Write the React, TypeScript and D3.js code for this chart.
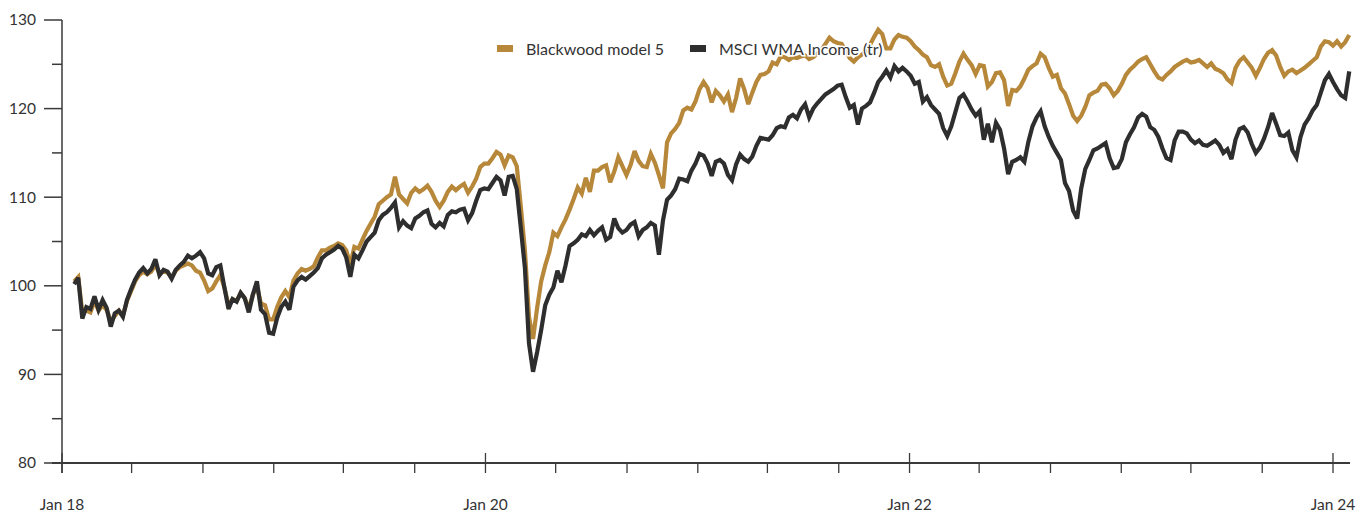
import { useEffect, useRef } from 'react';
import * as d3 from 'd3';

// Weekly index levels (rebased to 100).
const START_DATE = new Date(2018, 0, 22);

const SERIES_NAMES = ['Blackwood model 5', 'MSCI WMA Income (tr)'];

const blackwood = [
  100.5, 101.0, 97.0, 97.2, 97.0, 98.3, 97.2, 97.8, 97.3, 96.0,
  96.6, 97.2, 96.6, 98.3, 99.4, 100.5, 101.2, 101.6, 101.3, 101.6,
  102.4, 101.4, 101.6, 101.5, 100.9, 101.7, 102.1, 102.3, 102.5, 102.3,
  101.7, 101.5, 100.6, 99.4, 99.7, 100.5, 101.2, 99.8, 97.8, 98.5,
  98.3, 99.2, 98.6, 97.4, 99.0, 99.9, 98.0, 97.8, 96.2, 96.2,
  97.6, 98.7, 99.4, 98.7, 100.6, 101.4, 101.9, 101.7, 101.9, 102.2,
  103.2, 104.0, 104.0, 104.3, 104.5, 104.8, 104.6, 104.0, 102.4, 104.4,
  104.2, 105.2, 106.2, 107.0, 107.8, 109.2, 109.6, 110.0, 110.3, 112.3,
  110.3, 109.8, 109.3, 110.5, 111.0, 110.6, 110.9, 111.3, 110.6, 109.6,
  108.9, 109.6, 110.6, 111.2, 110.8, 111.2, 111.5, 110.5, 111.2, 112.1,
  113.4, 113.8, 113.8, 114.4, 115.1, 114.8, 113.6, 114.7, 114.5, 113.5,
  108.9, 104.0, 96.5, 94.0, 97.5, 100.5, 102.3, 103.8, 106.0, 105.6,
  106.6, 107.5, 108.6, 109.8, 111.1, 110.4, 112.2, 110.6, 113.0, 113.0,
  113.4, 113.6, 111.7, 112.9, 114.5, 113.5, 112.5, 113.6, 115.2, 114.1,
  113.5, 113.4, 114.9, 113.9, 112.5, 111.0, 116.2, 117.2, 117.7, 118.4,
  119.8, 120.1, 119.9, 120.8, 122.2, 123.0, 122.3, 120.7, 122.0, 121.5,
  120.8, 121.6, 119.6, 121.2, 123.4, 122.2, 120.5, 121.8, 123.0, 123.8,
  123.9, 124.2, 125.2, 125.0, 125.9, 125.8, 125.5, 125.8, 125.7, 125.9,
  126.0, 125.6, 125.8, 126.2, 126.6, 127.3, 128.0, 127.6, 127.4, 127.3,
  126.5, 125.7, 125.3, 125.8, 126.1, 126.4, 127.2, 128.1, 128.9, 128.4,
  126.8, 126.8, 127.8, 128.3, 128.1, 128.0, 127.6, 127.0, 126.6, 126.1,
  125.8, 124.9, 124.7, 125.0, 123.6, 122.6, 122.8, 124.0, 125.3, 126.2,
  125.5, 124.9, 123.9, 124.9, 124.8, 122.5, 123.0, 124.0, 124.1, 123.2,
  120.3, 122.1, 122.0, 122.5, 123.4, 124.4, 124.8, 125.1, 126.2, 125.8,
  124.6, 123.6, 123.8, 122.3, 121.7, 120.5, 119.2, 118.6, 119.2, 120.2,
  121.5, 121.8, 122.0, 122.7, 122.8, 122.3, 121.5, 122.0, 122.8, 123.8,
  124.4, 124.8, 125.3, 125.6, 125.8, 125.0, 124.2, 123.5, 123.3, 123.8,
  124.2, 124.7, 125.0, 125.3, 125.5, 125.2, 125.3, 125.5, 125.1, 124.7,
  125.1, 124.5, 124.3, 124.0, 123.3, 122.9, 124.6, 125.4, 125.8, 125.2,
  124.6, 123.7, 124.6, 125.6, 126.3, 126.6, 126.0, 124.7, 123.7, 124.2,
  124.4, 124.0, 124.3, 124.6, 125.0, 125.4, 125.8, 127.0, 127.6, 127.5,
  127.1, 127.6, 127.0, 127.5, 128.3,
];

const msciIncome = [
  100.2, 100.9, 96.3, 97.6, 97.4, 98.8, 97.3, 98.4, 97.5, 95.4,
  96.9, 97.2, 96.5, 98.4, 99.6, 100.7, 101.5, 102.0, 101.4, 101.9,
  103.0, 101.2, 101.8, 101.6, 100.8, 101.8, 102.3, 102.7, 103.4, 103.1,
  103.4, 103.8, 103.1, 101.4, 101.2, 102.1, 102.3, 99.8, 97.4, 98.5,
  98.2, 99.2, 98.6, 97.0, 99.0, 100.5, 97.3, 96.8, 94.7, 94.6,
  96.4, 97.6, 98.2, 97.3, 99.9, 100.6, 101.0, 100.7, 101.1, 101.5,
  102.0, 103.1, 103.5, 103.8, 104.1, 104.5, 104.2, 103.2, 101.0, 103.5,
  103.1, 104.0, 105.0, 105.5, 106.0, 107.4, 108.0, 108.3, 108.8, 109.4,
  106.6, 107.3, 106.8, 106.5, 107.6, 107.9, 108.3, 108.5, 107.0, 106.6,
  107.1, 106.7, 108.0, 108.4, 108.3, 108.6, 108.7, 107.4, 108.2, 109.6,
  110.8, 111.0, 110.9, 111.6, 112.3, 111.9, 110.2, 112.3, 112.4, 110.9,
  106.5, 102.0, 93.5, 90.3, 92.5, 95.0, 97.8, 99.0, 99.8, 101.7,
  100.4, 102.3, 104.5, 104.8, 105.2, 105.8, 105.6, 106.3, 105.7, 106.2,
  106.6, 105.2, 105.5, 107.6, 106.5, 106.0, 106.3, 106.9, 107.2, 105.6,
  106.3, 106.6, 107.1, 106.8, 103.5, 107.4, 109.7, 110.2, 110.9, 112.1,
  112.0, 111.8, 113.0, 113.8, 114.9, 114.7, 113.8, 112.4, 114.0, 114.2,
  113.8, 112.5, 111.9, 113.7, 114.8, 114.3, 114.0, 114.6, 115.8, 116.7,
  116.6, 116.5, 117.0, 117.8, 118.0, 117.9, 119.0, 119.3, 118.9, 119.9,
  120.5, 119.0, 120.0, 120.6, 121.1, 121.6, 121.9, 122.2, 122.6, 122.7,
  121.3, 120.1, 120.4, 118.2, 120.0, 120.3, 120.7, 121.8, 123.0, 123.6,
  124.3, 123.5, 124.8, 124.2, 124.6, 124.2, 123.7, 122.8, 123.0, 120.8,
  121.3, 120.4, 119.9, 119.4, 117.8, 116.9, 118.0, 119.6, 121.2, 121.6,
  120.8, 119.9, 119.2, 119.7, 116.5, 118.3, 116.2, 118.4, 117.6, 115.5,
  112.6, 114.0, 114.2, 114.5, 114.0, 116.3, 118.0, 119.0, 119.7, 118.0,
  116.8, 115.8, 115.0, 114.2, 111.6, 110.7, 108.5, 107.6, 111.0, 113.2,
  114.2, 115.3, 115.5, 115.8, 116.1, 114.4, 113.3, 113.4, 114.3, 116.2,
  117.1, 117.9, 119.0, 119.4, 119.1, 117.9, 117.6, 116.8, 115.5, 114.4,
  114.2, 116.4, 117.4, 117.4, 117.2, 116.5, 116.1, 116.4, 115.9, 115.8,
  116.1, 116.4, 115.9, 115.0, 115.4, 114.3, 116.5, 117.7, 117.9, 117.3,
  116.0, 115.0, 115.6, 116.6, 117.9, 119.5, 118.3, 117.0, 116.9, 117.3,
  115.3, 114.5, 116.8, 118.2, 118.9, 119.8, 120.4, 121.8, 123.2, 123.9,
  123.0, 122.2, 121.5, 121.2, 124.2,
];

const Y_TICKS = [80, 90, 100, 110, 120, 130];
const X_LABELS = ['Jan 18', 'Jan 20', 'Jan 22', 'Jan 24'];

const WIDTH = 1358;
const HEIGHT = 512;
const GOLD = '#b7873a';
const DARK = '#2e2e2e';
const AXIS = '#3a3a3a';
const TEXT = '#333333';
const FONT = 'Lato, "Open Sans", sans-serif';

export default function App() {
  const svgRef = useRef<SVGSVGElement>(null);

  useEffect(() => {
    if (!svgRef.current) return;
    const svg = d3.select(svgRef.current);
    svg.selectAll('*').remove();

    const dates = blackwood.map((_, i) => d3.timeDay.offset(START_DATE, i * 7));

    // Jan 18 sits on the y axis, Jan 24 at 1333; axis runs a little past it
    const x = d3
      .scaleTime()
      .domain([new Date(2018, 0, 1), new Date(2024, 0, 1)])
      .range([62, 1333]);
    const xEnd = 1350;
    const y = d3.scaleLinear().domain([80, 130]).range([463, 20]);

    const g = svg.append('g').style('font-family', FONT);

    // Lines (gold first, MSCI drawn on top)
    const seriesList = [
      { values: blackwood, color: GOLD },
      { values: msciIncome, color: DARK },
    ];
    seriesList.forEach(s => {
      const line = d3
        .line<number>()
        .x((_d: number, i: number) => x(dates[i]))
        .y((d: number) => y(d));
      g.append('path')
        .datum(s.values)
        .attr('d', line)
        .attr('fill', 'none')
        .attr('stroke', s.color)
        .attr('stroke-width', 4.2)
        .attr('stroke-linejoin', 'miter')
        .attr('stroke-miterlimit', 3);
    });

    // Y axis
    g.append('line')
      .attr('x1', 62).attr('x2', 62)
      .attr('y1', y(130)).attr('y2', 473)
      .attr('stroke', AXIS).attr('stroke-width', 1.5);
    d3.range(80, 131, 5).forEach((v: number) => {
      const major = v % 10 === 0;
      g.append('line')
        .attr('x1', major ? 44 : 52).attr('x2', 62)
        .attr('y1', y(v)).attr('y2', y(v))
        .attr('stroke', AXIS).attr('stroke-width', 1.5);
    });
    Y_TICKS.forEach(v => {
      g.append('text')
        .attr('x', 36)
        .attr('y', y(v))
        .attr('dy', '0.35em')
        .attr('text-anchor', 'end')
        .attr('font-size', '15.5px')
        .attr('fill', TEXT)
        .text(v);
    });

    // X axis
    g.append('line')
      .attr('x1', 52).attr('x2', xEnd)
      .attr('y1', y(80)).attr('y2', y(80))
      .attr('stroke', AXIS).attr('stroke-width', 2);
    const ticks = d3.timeMonth.every(4).range(new Date(2018, 0, 1), new Date(2024, 0, 2));
    ticks.forEach((t: Date) => {
      const major = t.getMonth() === 0 && t.getFullYear() % 2 === 0;
      const tx = x(t);
      g.append('line')
        .attr('x1', tx).attr('x2', tx)
        .attr('y1', major ? y(80) - 10 : y(80)).attr('y2', y(80) + 10)
        .attr('stroke', AXIS).attr('stroke-width', 1.3);
    });
    X_LABELS.forEach((label, i) => {
      g.append('text')
        .attr('x', x(new Date(2018 + i * 2, 0, 1)))
        .attr('y', 510)
        .attr('text-anchor', 'middle')
        .attr('font-size', '15.5px')
        .attr('fill', TEXT)
        .text(label);
    });

    // Legend
    const legendItems = [
      { name: SERIES_NAMES[0], color: GOLD, x: 497 },
      { name: SERIES_NAMES[1], color: DARK, x: 690 },
    ];
    legendItems.forEach(item => {
      g.append('rect')
        .attr('x', item.x).attr('y', 45)
        .attr('width', 16).attr('height', 7)
        .attr('fill', item.color);
      g.append('text')
        .attr('x', item.x + 29)
        .attr('y', 49)
        .attr('dy', '0.35em')
        .attr('font-size', '16px')
        .attr('fill', TEXT)
        .attr('stroke', '#ffffff')
        .attr('stroke-width', 3)
        .attr('paint-order', 'stroke')
        .text(item.name);
    });
  }, []);

  return (
    <div style={{ position: 'absolute', left: 0, top: 0, width: WIDTH, height: HEIGHT, background: '#ffffff' }}>
      <svg ref={svgRef} width={WIDTH} height={HEIGHT} style={{ display: 'block' }} />
    </div>
  );
}
